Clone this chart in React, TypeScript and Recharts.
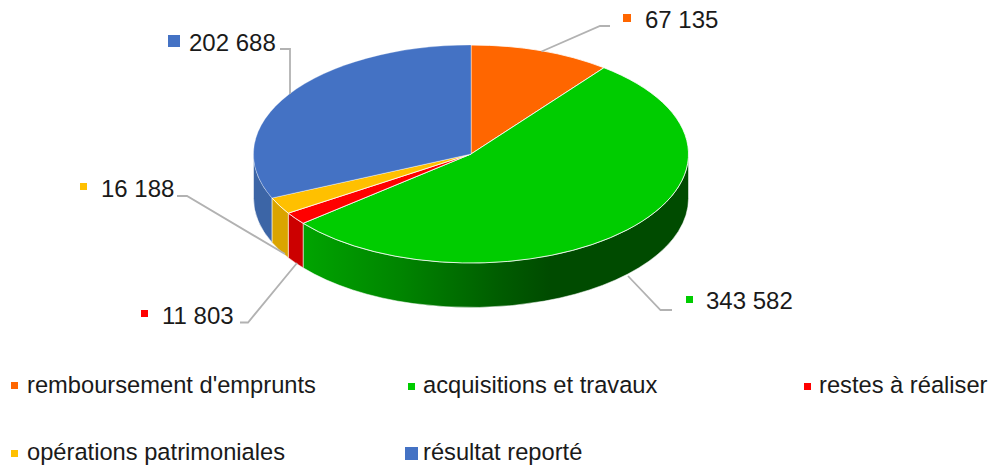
import React from 'react';
import { PieChart, Pie, Legend } from 'recharts';

const categories = [
  'remboursement d\'emprunts',
  'acquisitions et travaux',
  'restes à réaliser',
  'opérations patrimoniales',
  'résultat reporté',
];
const amounts = [67135, 343582, 11803, 16188, 202688];

const topColors = ['#ff6600', '#00cc00', '#ff0000', '#ffc000', '#4472c4'];
const wallColors = ['#cc5200', 'url(#greenWall)', '#cc0000', '#daa400', '#3c65a6'];
const edgeOpacity = [0.8, 0.8, 0.8, 0.8, 0.25];

const CX = 471;
const CY = 154;
const RX = 217.5;
const RY = 109;
const DEPTH = 44.5;

// label layout, same order as categories
const labelX = [645, 706, 162, 101, 189];
const labelY = [28, 309, 324, 197, 51];
const markers = [
  [623, 14, 8],
  [686, 296, 7],
  [141, 310, 7],
  [80, 183, 7],
  [168, 35, 12],
];
const leaders = [
  '541.5,51.5 600,26 610,26',
  '628,276 660.5,310 672,310',
  '297,263 248,322.5 240,322.5',
  '285,254 187,196 177,196',
  '290,94 290,49 280,49',
];
const legendPos = [
  [11, 382, 7, 27, 393],
  [408, 383, 7, 423, 393],
  [804, 383, 7, 819, 393],
  [11, 450, 7, 27, 460],
  [405, 447, 13, 423, 460],
];

const tableData = categories.map((name, i) => ({ name, value: amounts[i], fill: topColors[i] }));

const fmt = (v: number) => String(v).replace(/\B(?=(\d{3})+$)/g, ' ');

const pt = (a: number, dy = 0) => {
  const r = (a * Math.PI) / 180;
  return `${CX + RX * Math.cos(r)} ${CY - RY * Math.sin(r) + dy}`;
};

const TopSlice = (props: any) => {
  const { startAngle, endAngle, fill, index } = props;
  const large = Math.abs(startAngle - endAngle) > 180 ? 1 : 0;
  return (
    <path
      d={`M${CX} ${CY} L${pt(startAngle)} A${RX} ${RY} 0 ${large} 1 ${pt(endAngle)} Z`}
      fill={fill}
      stroke="#fff"
      strokeOpacity={edgeOpacity[index]}
      strokeWidth={1}
      strokeLinejoin="round"
    />
  );
};

// only the part of a slice in the front half has a visible wall
const WallSlice = (props: any) => {
  const { startAngle, endAngle, index } = props;
  const a1 = Math.min(startAngle, 0);
  const a2 = Math.max(endAngle, -180);
  if (a1 <= a2) return null;
  return (
    <path
      d={`M${pt(a1)} A${RX} ${RY} 0 0 1 ${pt(a2)} L${pt(a2, DEPTH)} A${RX} ${RY} 0 0 0 ${pt(a1, DEPTH)} Z`}
      fill={wallColors[index]}
      stroke="#fff"
      strokeOpacity={0.7}
      strokeWidth={0.75}
    />
  );
};

const LeaderLine = (props: any) => (
  <polyline points={leaders[props.index]} fill="none" stroke="#b2b2b2" strokeWidth={1.8} />
);

const ValueLabel = (props: any) => {
  const i = props.index;
  const [mx, my, ms] = markers[i];
  return (
    <g>
      <rect x={mx} y={my} width={ms} height={ms} fill={topColors[i]} />
      <text x={labelX[i]} y={labelY[i]} fontSize={24} fill="#1a1a1a" fontFamily="Liberation Sans">
        {fmt(amounts[i])}
      </text>
    </g>
  );
};

const LegendBlock = () => (
  <div style={{ position: 'relative', width: 989, height: 466 }}>
    {categories.map((name, i) => {
      const [mx, my, ms, tx, ty] = legendPos[i];
      return (
        <React.Fragment key={name}>
          <div style={{ position: 'absolute', left: mx, top: my, width: ms, height: ms, background: topColors[i] }} />
          <div
            style={{
              position: 'absolute',
              left: tx,
              top: ty - 20,
              fontFamily: 'Liberation Sans',
              fontSize: 23.7,
              lineHeight: '24px',
              color: '#1a1a1a',
              whiteSpace: 'nowrap',
            }}
          >
            {name}
          </div>
        </React.Fragment>
      );
    })}
  </div>
);

export default function App() {
  return (
    <div style={{ position: 'absolute', left: 0, top: 0, width: 989, height: 466 }}>
      <PieChart width={989} height={466} margin={{ top: 0, right: 0, bottom: 0, left: 0 }}>
        <defs>
          <linearGradient id="greenWall" gradientUnits="userSpaceOnUse" x1={303} y1={0} x2={550} y2={0}>
            <stop offset="0" stopColor="#00a400" />
            <stop offset="0.4" stopColor="#008400" />
            <stop offset="0.8" stopColor="#005c00" />
            <stop offset="1" stopColor="#004b00" />
          </linearGradient>
        </defs>
        <Pie
          data={tableData}
          dataKey="value"
          nameKey="name"
          cx={CX}
          cy={CY}
          outerRadius={RX}
          startAngle={90}
          endAngle={-270}
          paddingAngle={0}
          stroke="none"
          legendType="none"
          shape={WallSlice}
          label={LeaderLine}
          labelLine={false}
          isAnimationActive={false}
        />
        <Pie
          data={tableData}
          dataKey="value"
          nameKey="name"
          cx={CX}
          cy={CY}
          outerRadius={RX}
          startAngle={90}
          endAngle={-270}
          paddingAngle={0}
          shape={TopSlice}
          label={ValueLabel}
          labelLine={false}
          isAnimationActive={false}
        />
        <Legend
          content={LegendBlock}
          wrapperStyle={{ left: 0, top: 0, bottom: 'auto', width: 989, height: 466, pointerEvents: 'none' }}
        />
      </PieChart>
    </div>
  );
}
